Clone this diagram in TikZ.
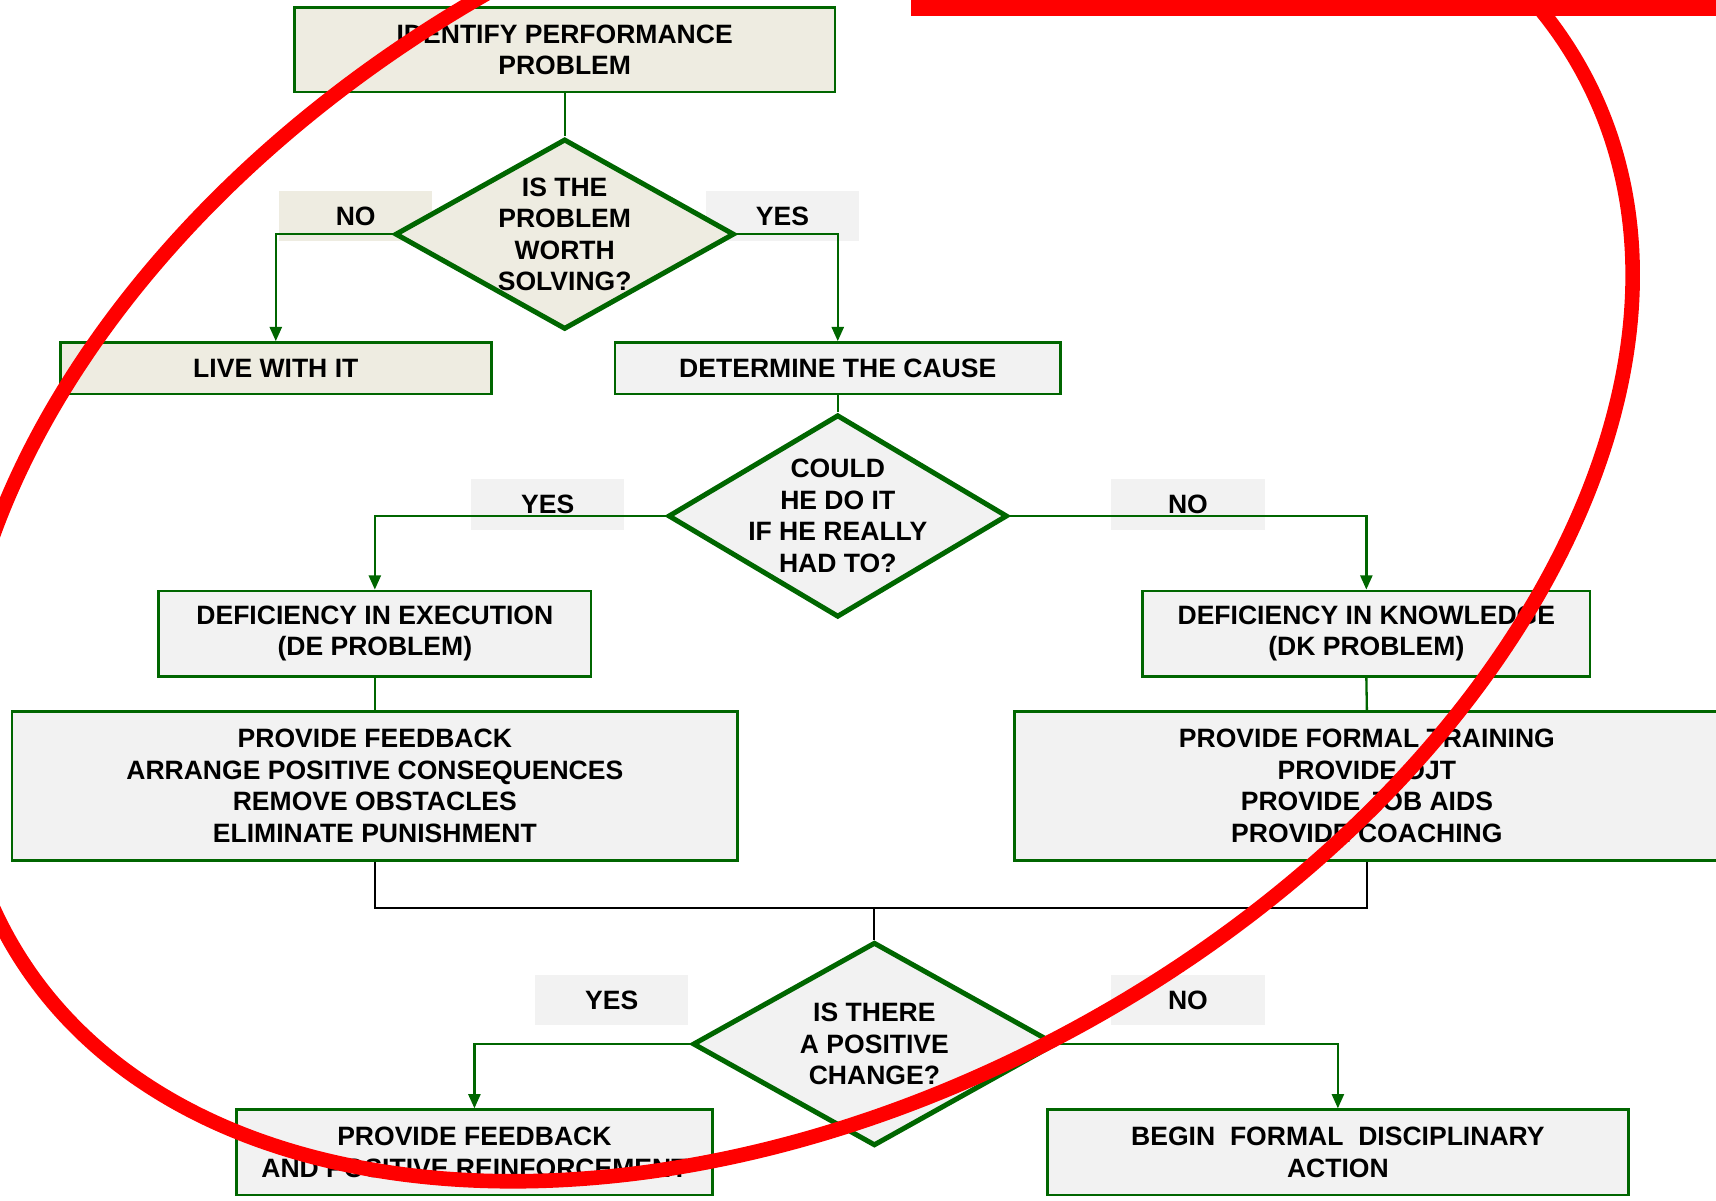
\documentclass[tikz,border=0pt]{standalone}
\usepackage{fontspec}
\setmainfont{Liberation Sans}
\usetikzlibrary{shapes.geometric,arrows.meta}
\definecolor{flowgreen}{RGB}{0,102,0}
\definecolor{boxgray}{RGB}{242,242,242}
\definecolor{boxbeige}{RGB}{238,236,225}
\definecolor{markred}{RGB}{255,0,0}
\begin{document}
\begin{tikzpicture}[x=0.1mm,y=-0.1mm,
    every node/.style={font=\fontsize{6.9}{8.2}\selectfont\bfseries, align=center},
    stepbox/.style={draw=flowgreen, line width=0.7pt, fill=boxgray, inner sep=1pt},
    ask/.style={diamond, aspect=1.7, draw=flowgreen, line width=1.3pt, fill=boxgray, inner sep=-1.5mm},
    answer/.style={fill=boxgray, minimum width=14mm, minimum height=4.6mm, inner sep=0pt},
    link/.style={draw=flowgreen, line width=0.6pt},
    flow/.style={link, -{Triangle[length=1.3mm,width=1.1mm]}},
    joinline/.style={draw=black, line width=0.5pt},
    scribble/.style={draw=markred, line width=3.8pt}]
  \useasboundingbox (0,0) rectangle (1568,1097);
  \clip (0,0) rectangle (1568,1097);
  \node[answer, fill=boxbeige] (no1) at (325,197.5) {NO};
  \node[answer] (yes1) at (715,197.5) {YES};
  \node[answer] (yes2) at (500.5,461) {YES};
  \node[answer] (no2) at (1085.5,461) {NO};
  \node[answer] (yes3) at (559,914) {YES};
  \node[answer] (no3) at (1085.5,914) {NO};
  \node[stepbox, fill=boxbeige, minimum width=49.4mm, minimum height=7.7mm] (identify) at (516,45.5) {IDENTIFY PERFORMANCE\\PROBLEM};
  \node[ask, fill=boxbeige, minimum width=31mm, minimum height=17.4mm] (worth) at (516,214) {IS THE\\PROBLEM\\WORTH\\SOLVING?};
  \node[stepbox, fill=boxbeige, minimum width=39.4mm, minimum height=4.7mm] (live) at (252,336.5) {LIVE WITH IT};
  \node[stepbox, minimum width=40.7mm, minimum height=4.7mm] (cause) at (765.5,336.5) {DETERMINE THE CAUSE};
  \node[ask, minimum width=31mm, minimum height=18.5mm] (could) at (765.5,471.5) {COULD\\HE DO IT\\IF HE REALLY\\HAD TO?};
  \node[stepbox, minimum width=39.5mm, minimum height=7.8mm] (de) at (342.5,579) {DEFICIENCY IN EXECUTION\\(DE PROBLEM)};
  \node[stepbox, minimum width=40.9mm, minimum height=7.8mm] (dk) at (1248.5,579) {DEFICIENCY IN KNOWLEDGE\\(DK PROBLEM)};
  \node[stepbox, minimum width=66.3mm, minimum height=13.6mm] (fixde) at (342.5,718) {PROVIDE FEEDBACK\\ARRANGE POSITIVE CONSEQUENCES\\REMOVE OBSTACLES\\ELIMINATE PUNISHMENT};
  \node[stepbox, minimum width=64.4mm, minimum height=13.6mm] (fixdk) at (1249,718) {PROVIDE FORMAL TRAINING\\PROVIDE OJT\\PROVIDE JOB AIDS\\PROVIDE COACHING};
  \coordinate (merge) at (799,830);
  \node[ask, minimum width=33.2mm, minimum height=18.6mm] (change) at (799,954) {IS THERE\\A POSITIVE\\CHANGE?};
  \node[stepbox, minimum width=43.5mm, minimum height=7.8mm] (praise) at (433.5,1053) {PROVIDE FEEDBACK\\AND POSITIVE REINFORCEMENT};
  \node[stepbox, minimum width=53.1mm, minimum height=7.8mm] (discipline) at (1222.5,1053) {BEGIN~ FORMAL~ DISCIPLINARY\\ACTION};
  \draw[link] (identify.south) -- (worth.north);
  \draw[flow] (worth.west) -| (live.north);
  \draw[flow] (worth.east) -| (cause.north);
  \draw[link] (cause.south) -- (could.north);
  \draw[flow] (could.west) -| (de.north);
  \draw[flow] (could.east) -| (dk.north);
  \draw[link] (de.south) -- (fixde.north);
  \draw[link] (dk.south) -- (fixdk.north);
  \draw[joinline] (fixde.south) |- (merge) -| (fixdk.south);
  \draw[joinline] (merge) -- (change.north);
  \draw[flow] (change.west) -| (praise.north);
  \draw[flow] (change.east) -| (discipline.north);
  \fill[markred] (832,0) rectangle (1568,15);
  \draw[scribble] (726,460) ellipse [x radius=82.1mm, y radius=54.4mm, rotate=28.8];
\end{tikzpicture}
\end{document}
